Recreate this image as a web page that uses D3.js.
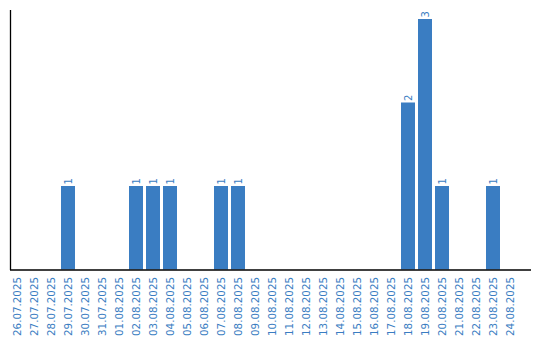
<!DOCTYPE html>
<html>
<head>
<meta charset="utf-8">
<script src="https://cdn.jsdelivr.net/npm/d3@7"></script>
<style>
  body { margin: 0; background: #fff; }
  svg { display: block; }
</style>
</head>
<body>
<svg id="chart" width="540" height="340"></svg>
<script>
const dates = [
  '26.07.2025', '27.07.2025', '28.07.2025', '29.07.2025', '30.07.2025', '31.07.2025',
  '01.08.2025', '02.08.2025', '03.08.2025', '04.08.2025', '05.08.2025', '06.08.2025',
  '07.08.2025', '08.08.2025', '09.08.2025', '10.08.2025', '11.08.2025', '12.08.2025',
  '13.08.2025', '14.08.2025', '15.08.2025', '16.08.2025', '17.08.2025', '18.08.2025',
  '19.08.2025', '20.08.2025', '21.08.2025', '22.08.2025', '23.08.2025', '24.08.2025'
]
const counts = [
  0, 0, 0, 1, 0, 0,
  0, 1, 1, 1, 0, 0,
  1, 1, 0, 0, 0, 0,
  0, 0, 0, 0, 0, 2,
  3, 1, 0, 0, 1, 0
]
const yDomain = [0, 3]

const blue = '#3a7dc2'
const left = 10
const bottom = 269.5

const svg = d3.select('#chart')

const x = d3.scaleBand()
  .domain(dates)
  .range([left, 517])
  .paddingInner(3 / 17)
  .paddingOuter(0)

const y = d3.scaleLinear()
  .domain(yDomain)
  .range([bottom, 19])

const data = dates.map((d, i) => ({ date: d, value: counts[i] }))

// bars
svg.append('g').selectAll('rect')
  .data(data.filter(d => d.value > 0))
  .enter().append('rect')
  .attr('x', d => x(d.date))
  .attr('y', d => y(d.value))
  .attr('width', x.bandwidth())
  .attr('height', d => bottom - y(d.value))
  .style('fill', blue)

// value labels
svg.append('g').selectAll('text')
  .data(data.filter(d => d.value > 0))
  .enter().append('text')
  .attr('transform', d => `translate(${x(d.date) + x.bandwidth() / 2 + 4}, ${y(d.value) - 1.5}) rotate(-90)`)
  .style('font-family', 'DejaVu Sans, Verdana, sans-serif')
  .style('font-size', '10px')
  .style('fill', blue)
  .text(d => d.value)

// axes
svg.append('line')
  .attr('x1', left + 0.5).attr('x2', left + 0.5)
  .attr('y1', 10).attr('y2', bottom + 0.5)
  .style('stroke', '#000')
  .style('stroke-width', 1.3)
svg.append('line')
  .attr('x1', left).attr('x2', 531)
  .attr('y1', bottom + 0.5).attr('y2', bottom + 0.5)
  .style('stroke', '#000')
  .style('stroke-width', 1.3)

// date labels
svg.append('g').selectAll('text')
  .data(dates)
  .enter().append('text')
  .attr('transform', d => `translate(${x(d) + x.bandwidth() / 2 + 3.5}, 277) rotate(-90)`)
  .attr('text-anchor', 'end')
  .style('font-family', 'DejaVu Sans, Verdana, sans-serif')
  .style('font-size', '10.3px')
  .style('fill', blue)
  .text(d => d)
</script>
</body>
</html>
